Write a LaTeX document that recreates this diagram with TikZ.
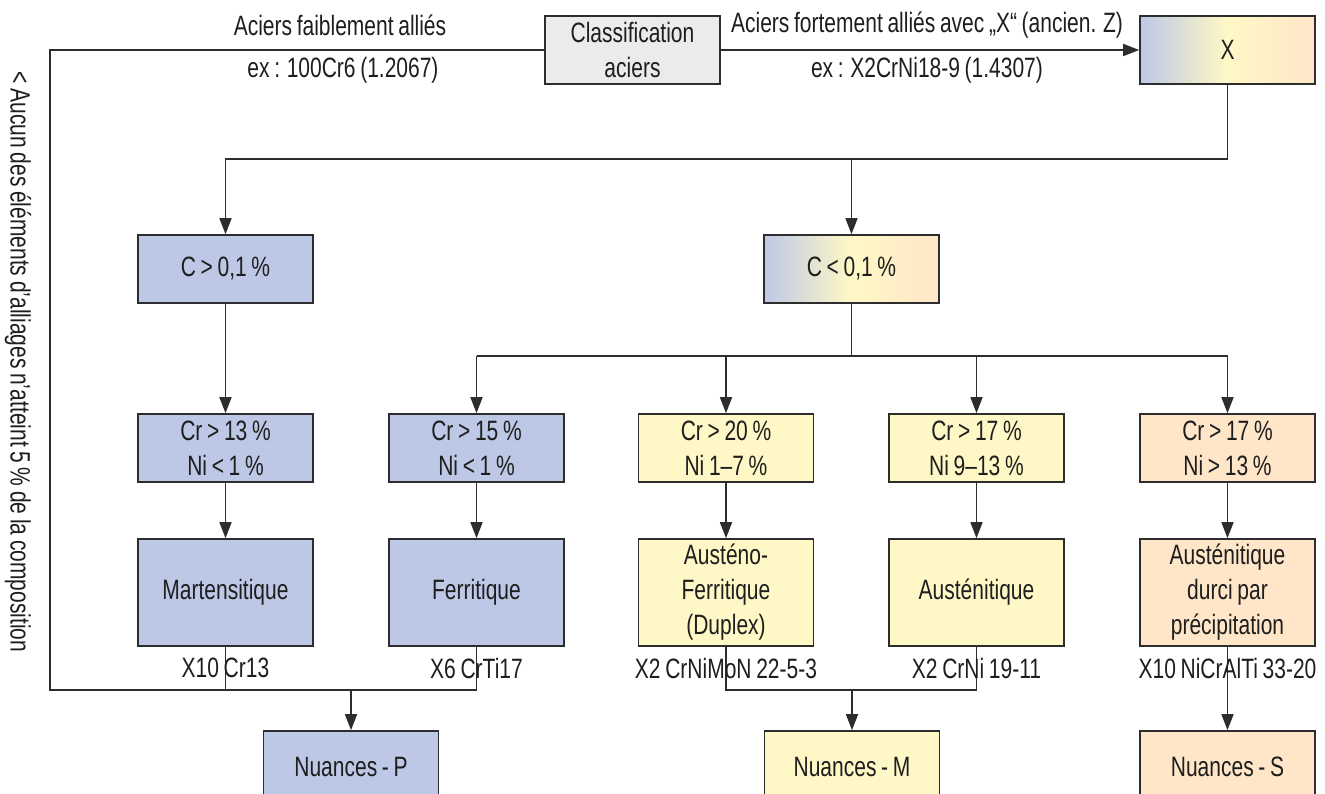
\documentclass[tikz,border=0pt]{standalone}
\usepackage{fontspec}
\setmainfont[FakeStretch=0.75,WordSpace=0.8]{Liberation Sans}
\usetikzlibrary{arrows.meta}
\definecolor{pblue}{RGB}{189,200,230}
\definecolor{pyellow}{RGB}{255,248,198}
\definecolor{ppeach}{RGB}{255,230,200}
\definecolor{pgrey}{RGB}{235,235,235}
\definecolor{edge}{RGB}{45,45,45}
\definecolor{ink}{RGB}{30,30,30}
\begin{document}
\begin{tikzpicture}[x=1pt,y=-1pt,
  every node/.style={font=\fontsize{28}{35}\selectfont, text=ink},
  box/.style={draw=edge, line width=1.6pt, minimum width=175pt, minimum height=68pt,
              align=center, inner sep=0pt},
  tallbox/.style={box, minimum height=107pt},
  nbox/.style={box, minimum height=72pt},
  blue/.style={fill=pblue},
  yellow/.style={fill=pyellow},
  peach/.style={fill=ppeach},
  mixed/.style={left color=pblue, right color=ppeach, middle color=pyellow},
  conn/.style={draw=edge, line width=1.6pt},
  arr/.style={conn, -{Triangle[length=16pt,width=12pt]}},
  lab/.style={inner sep=0pt}]
\useasboundingbox (0,0) rectangle (1325,794);

% top row
\node[box, fill=pgrey] (cls) at (632.5,50) {Classification\\aciers};
\node[box, mixed] (X) at (1227.5,50) {X};
\node[lab] (lowlab) at (340,25) {Aciers faiblement alliés};
\node[lab] (lowex) at (343,70) {ex : 100Cr6 (1.2067)};
\node[lab] (highlab) at (927,25) {Aciers fortement alliés avec „X“ (ancien. Z)};
\node[lab] (highex) at (927,70) {ex : X2CrNi18-9 (1.4307)};

% carbon level
\node[box, blue] (c1) at (225.5,269) {C > 0,1 \%};
\node[box, mixed] (c2) at (851.5,269) {C < 0,1 \%};

% Cr / Ni conditions
\node[box, blue]   (r1) at (225.5,448) {Cr > 13 \%\\Ni < 1 \%};
\node[box, blue]   (r2) at (476.5,448) {Cr > 15 \%\\Ni < 1 \%};
\node[box, yellow] (r3) at (726,448)   {Cr > 20 \%\\Ni 1–7 \%};
\node[box, yellow] (r4) at (976.5,448) {Cr > 17 \%\\Ni 9–13 \%};
\node[box, peach]  (r5) at (1227.5,448) {Cr > 17 \%\\Ni > 13 \%};

% structures
\node[tallbox, blue]   (t1) at (225.5,592.5) {Martensitique};
\node[tallbox, blue]   (t2) at (476.5,592.5) {Ferritique};
\node[tallbox, yellow] (t3) at (726,592.5)   {Austéno-\\Ferritique\\(Duplex)};
\node[tallbox, yellow] (t4) at (976.5,592.5) {Austénitique};
\node[tallbox, peach]  (t5) at (1227.5,592.5) {Austénitique\\durci par\\précipitation};

% groups
\node[nbox, blue]   (n1) at (351,767)    {Nuances - P};
\node[nbox, yellow] (n2) at (852,767)    {Nuances - M};
\node[nbox, peach]  (n3) at (1227.5,767) {Nuances - S};

% bus levels
\coordinate (bus1) at (0,159);
\coordinate (bus2) at (0,356);
\coordinate (bus3) at (0,690);
\coordinate (cornerL) at (50,690);

% connectors
\draw[arr] (cls.east) -- (X.west);
\draw[conn] (cls.west) -| (cornerL) -- (t2.south |- bus3) -- (t2.south);
\draw[conn] (t1.south) -- (t1.south |- bus3);
\draw[arr] (n1.north |- bus3) -- (n1.north);

\draw[arr] (X.south) |- (c1.north |- bus1) -- (c1.north);
\draw[arr] (c2.north |- bus1) -- (c2.north);

\draw[arr] (c1.south) -- (r1.north);
\draw[conn] (c2.south) -- (c2.south |- bus2);
\draw[conn] (r2.north |- bus2) -- (r5.north |- bus2);
\foreach \r in {r2,r3,r4,r5} \draw[arr] (\r.north |- bus2) -- (\r.north);

\foreach \i in {1,...,5} \draw[arr] (r\i.south) -- (t\i.south |- t\i.north);

\draw[conn] (t3.south) -- (t3.south |- bus3) -- (t4.south |- bus3) -- (t4.south);
\draw[arr] (n2.north |- bus3) -- (n2.north);
\draw[arr] (t5.south) -- (n3.north);

% grade examples
\node[lab] (e1) at (225.5,668) {X10 Cr13};
\node[lab] (e2) at (476.5,668) {X6 CrTi17};
\node[lab] (e3) at (726,668)   {X2 CrNiMoN 22-5-3};
\node[lab] (e4) at (976.5,668) {X2 CrNi 19-11};
\node[lab] (e5) at (1227.5,668) {X10 NiCrAlTi 33-20};

% side note
\node[lab, rotate=-90] (note) at (18,362) {< Aucun des éléments d'alliages n'atteint 5 \% de la composition};
\end{tikzpicture}
\end{document}
